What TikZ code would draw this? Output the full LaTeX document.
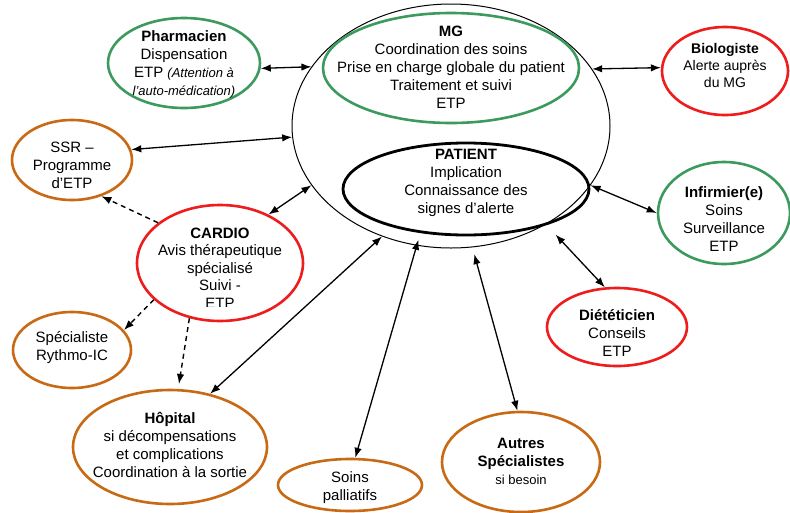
\documentclass[tikz,border=0pt]{standalone}
\usepackage{fontspec}
\setmainfont{Liberation Sans}
\usetikzlibrary{shapes.geometric,arrows.meta}
\definecolor{cgreen}{RGB}{60,154,95}
\definecolor{cred}{RGB}{238,28,28}
\definecolor{corange}{RGB}{200,106,20}
\tikzset{
  ell/.style={ellipse, draw, inner sep=0pt, line width=2.6pt},
  gr/.style={ell, draw=cgreen},
  rd/.style={ell, draw=cred},
  orn/.style={ell, draw=corange},
  txt/.style={align=center, inner sep=0pt, font=\fontsize{15}{18}\selectfont},
  link/.style={{Latex[length=10pt,width=7.5pt]}-{Latex[length=10pt,width=7.5pt]}, line width=1.3pt},
  dlink/.style={-{Latex[length=10pt,width=7.5pt]}, dash pattern=on 5pt off 4pt, line width=1.4pt},
}
\begin{document}
\begin{tikzpicture}[x=1pt,y=-1pt]
\useasboundingbox[fill=white] (0,0) rectangle (790,512);
% ellipses
\node[ell, line width=1pt, minimum width=318pt, minimum height=244pt] (big) at (451,126) {};
\node[gr, minimum width=256pt, minimum height=110pt] (mg) at (451,68) {};
\node[ell, line width=2.8pt, minimum width=246pt, minimum height=92pt] (pat) at (466,189) {};
\node[gr, minimum width=152pt, minimum height=90pt] (pha) at (184,63) {};
\node[rd, minimum width=126pt, minimum height=88pt] (bio) at (725,71) {};
\node[orn, minimum width=120pt, minimum height=80pt] (ssr) at (72,160) {};
\node[rd, minimum width=166pt, minimum height=116pt] (car) at (220,263) {};
\node[gr, minimum width=132pt, minimum height=102pt] (inf) at (724,213) {};
\node[rd, minimum width=140pt, minimum height=78pt] (die) at (617,327) {};
\node[orn, minimum width=118pt, minimum height=76pt] (spe) at (72,350) {};
\node[orn, minimum width=194pt, minimum height=114pt] (hop) at (170,447) {};
\node[orn, minimum width=144pt, minimum height=52pt] (soi) at (350,485) {};
\node[orn, minimum width=158pt, minimum height=100pt] (aut) at (521,462) {};
% texts
\node[txt] (mgt) at (451,67) {\textbf{MG}\\Coordination des soins\\Prise en charge globale du patient\\Traitement et suivi\\ETP};
\node[txt] (patt) at (466,183) {\textbf{PATIENT}\\Implication\\Connaissance des\\signes d’alerte};
\node[txt] (phat) at (184,64) {\textbf{Pharmacien}\\Dispensation\\ETP {\itshape\fontsize{13}{18}\selectfont (Attention à}\\{\itshape\fontsize{13}{18}\selectfont l'auto-médication)}};
\node[txt, font=\fontsize{14}{17}\selectfont] (biot) at (725,65) {\textbf{Biologiste}\\Alerte auprès\\du MG};
\node[txt] (ssrt) at (72,165) {SSR --\\Programme\\d'ETP};
\begin{scope}
\clip (130,195) rectangle (310,306);
\node[txt, font=\fontsize{15}{17.5}\selectfont] (cart) at (220,268) {\textbf{CARDIO}\\Avis thérapeutique\\spécialisé\\Suivi -\\ETP};
\end{scope}
\node[txt] (inft) at (724,219) {\textbf{Infirmier(e)}\\Soins\\Surveillance\\ETP};
\node[txt] (diet) at (617,333) {\textbf{Diététicien}\\Conseils\\ETP};
\node[txt] (spet) at (72,348) {Spécialiste\\Rythmo-IC};
\node[txt] (hopt) at (170,445) {\textbf{Hôpital}\\si décompensations\\et complications\\Coordination à la sortie};
\node[txt] (soit) at (350,488) {Soins\\palliatifs};
\node[txt] (autt) at (521,461) {\textbf{Autres}\\\textbf{Spécialistes}\\{\fontsize{13}{18}\selectfont si besoin}};
% connectors
\draw[link] (pha.-4) -- (big.157.4);
\draw[link] (big.22.1) -- (bio.177.3);
\draw[link] (ssr.10.4) -- (big.-176);
\draw[link] (car.45) -- (big.-157);
\draw[link] (hop.53.5) -- (big.-122.3);
\draw[link, shorten >=-6pt] (soi.79.5) -- (big.-106.9);
\draw[link, shorten >=7pt] (aut.94.7) -- (big.-80.75);
\draw[link, shorten >=14pt] (die.107.1) -- (big.-46.3);
\draw[link] (inf.180) -- (big.-23);
\draw[dlink] (car.147.8) -- (ssr.-51);
\draw[dlink] (car.-151.4) -- (spe.21.4);
\draw[dlink, shorten >=5pt] (car.-119.25) -- (hop.82.6);
\end{tikzpicture}
\end{document}
